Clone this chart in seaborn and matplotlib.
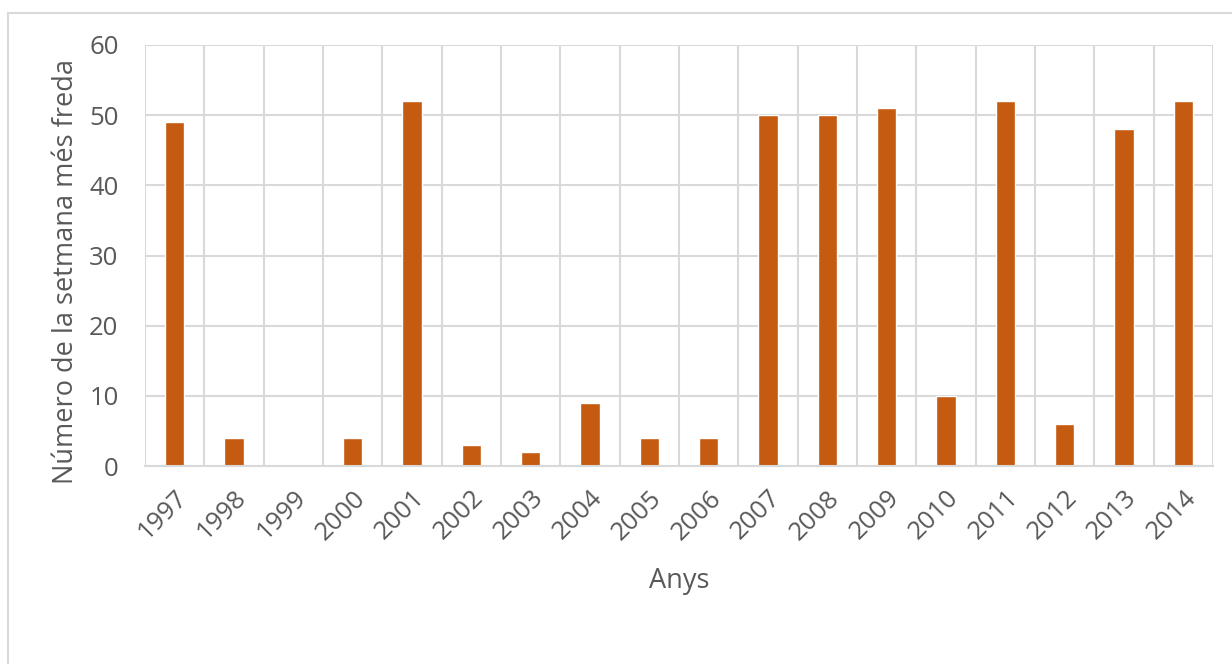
import matplotlib
matplotlib.use("Agg")
import matplotlib.pyplot as plt
import seaborn as sns
import pandas as pd
from matplotlib.patches import Rectangle

years = ["1997", "1998", "1999", "2000", "2001", "2002", "2003", "2004", "2005",
         "2006", "2007", "2008", "2009", "2010", "2011", "2012", "2013", "2014"]
weeks = [49, 4, 0, 4, 52, 3, 2, 9, 4, 4, 50, 50, 51, 10, 52, 6, 48, 52]

df = pd.DataFrame({"Anys": years, "Setmana": weeks})

sns.set_theme(style="white")
plt.rcParams["font.family"] = ["Open Sans", "DejaVu Sans"]

text_color = "#595959"
grid_color = "#d9d9d9"
bar_color = "#c55a11"

fig = plt.figure(figsize=(12.32, 6.64), dpi=100)
ax = fig.add_axes([145 / 1232, 1 - 466 / 664, (1213 - 145) / 1232, (466 - 45) / 664])

sns.barplot(data=df, x="Anys", y="Setmana", color=bar_color, width=0.33,
            saturation=1, ax=ax, zorder=3)

ax.set_ylim(0, 60)
ax.set_xlim(-0.5, len(years) - 0.5)
ax.set_yticks(range(0, 61, 10))

# horizontal value gridlines and vertical category separators
for y in range(10, 61, 10):
    ax.axhline(y, color=grid_color, lw=1.5, zorder=1)
for i in range(len(years) + 1):
    ax.axvline(i - 0.5, color=grid_color, lw=1.5, zorder=1)

for side in ["top", "right", "left"]:
    ax.spines[side].set_visible(False)
ax.spines["bottom"].set_color(grid_color)
ax.spines["bottom"].set_linewidth(1.5)
ax.spines["bottom"].set_zorder(4)

ax.tick_params(axis="both", length=0, colors=text_color, labelsize=18.5)
ax.tick_params(axis="x", pad=14)
ax.tick_params(axis="y", pad=19)
for lbl in ax.get_xticklabels():
    lbl.set_rotation(45)
    lbl.set_ha("right")
    lbl.set_rotation_mode("anchor")

ax.set_xlabel("Anys", fontsize=19.5, color=text_color, labelpad=16)
ax.set_ylabel("Número de la setmana més freda", fontsize=19.5, color=text_color)
ax.yaxis.set_label_coords(-0.061, 0.462)

# chart frame
fig.patches.append(Rectangle((8 / 1232, -0.05), 1.2, 1 - 13 / 664 + 0.05,
                             transform=fig.transFigure, fill=False,
                             edgecolor=grid_color, lw=1.5))

fig.savefig("out.png", dpi=100)
